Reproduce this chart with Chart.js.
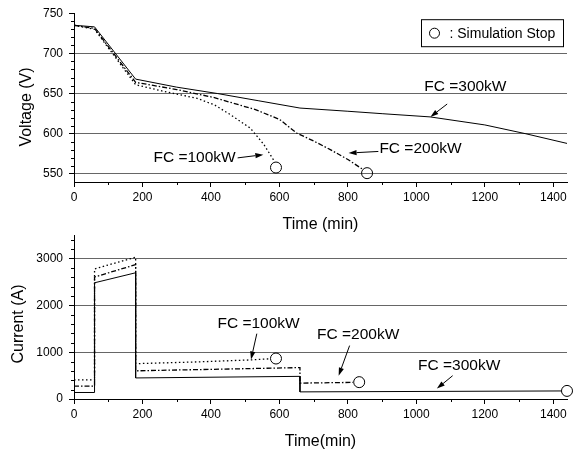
<!DOCTYPE html>
<html>
<head>
<meta charset="utf-8">
<script src="https://cdn.jsdelivr.net/npm/chart.js@4.4.0/dist/chart.umd.min.js"></script>
<style>
    body { margin: 0; background: #fff; }
    .panel { position: absolute; left: 0; }
    #voltagePanel { top: 0; }
    #currentPanel { top: 222px; }
</style>
</head>
<body>
<div class="panel" id="voltagePanel"><canvas id="voltageChart" width="582" height="234"></canvas></div>
<div class="panel" id="currentPanel"><canvas id="currentChart" width="582" height="230"></canvas></div>
<script>
const FONT = 'Arial, "Liberation Sans", sans-serif';

// axis ticks
const timeTicks = [0, 200, 400, 600, 800, 1000, 1200, 1400];
const voltageTicks = [550, 600, 650, 700, 750];
const currentTicks = [0, 1000, 2000, 3000];

// battery voltage (V) vs time (min)
const timeV100 = [0, 60, 180, 260, 360, 410, 456, 515, 554, 585];
const volt100 = [735, 730, 661, 653, 644, 636, 624, 607, 587, 566];
const timeV200 = [0, 60, 180, 300, 410, 530, 600, 650, 700, 750, 800, 846];
const volt200 = [735, 731, 664, 655, 645, 630, 618, 601, 591, 580, 568, 555];
const timeV300 = [0, 60, 180, 300, 420, 540, 660, 800, 900, 1040, 1200, 1320, 1440];
const volt300 = [735, 733, 668, 658, 650, 641, 632, 628, 625, 621, 611, 600, 588];
const stopTimeV = [590, 856];
const stopVolt = [558, 551];

// battery current (A) vs time (min)
const timeI100 = [0, 60, 60, 180, 180, 350, 515, 575];
const curr100 = [408, 408, 2780, 3030, 755, 790, 835, 860];
const timeI200 = [0, 60, 60, 180, 180, 660, 660, 815];
const curr200 = [277, 277, 2607, 2870, 602, 671, 339, 355];
const timeI300 = [0, 60, 60, 180, 180, 660, 660, 1425];
const curr300 = [139, 139, 2483, 2697, 450, 484, 152, 172];
const stopTimeI = [590, 833, 1440];
const stopCurr = [865, 360, 173];

const seriesNames = ['FC =100kW', 'FC =200kW', 'FC =300kW'];

function toPoints(xs, ys) {
    return xs.map((x, i) => ({ x: x, y: ys[i] }));
}

function fixedTicks(values) {
    return scale => { scale.ticks = values.map(v => ({ value: v })); };
}

function lineSet(label, xs, ys, dash) {
    return {
        label: label,
        data: toPoints(xs, ys),
        borderColor: '#000',
        borderWidth: dash.length ? 1.3 : 1,
        borderDash: dash,
        pointRadius: 0,
        tension: 0,
        fill: false
    };
}

function stopSet(xs, ys) {
    return {
        label: 'Simulation Stop',
        data: toPoints(xs, ys),
        showLine: false,
        pointRadius: 5.5,
        pointBorderWidth: 1,
        pointBorderColor: '#000',
        pointBackgroundColor: 'rgba(0,0,0,0)',
        clip: false
    };
}

function drawArrow(ctx, x1, y1, x2, y2) {
    const a = Math.atan2(y2 - y1, x2 - x1);
    const len = 8, half = 2.6;
    const bx = x2 - Math.cos(a) * len, by = y2 - Math.sin(a) * len;
    ctx.beginPath();
    ctx.moveTo(x1, y1);
    ctx.lineTo(bx, by);
    ctx.stroke();
    ctx.beginPath();
    ctx.moveTo(x2, y2);
    ctx.lineTo(bx + half * Math.sin(a), by - half * Math.cos(a));
    ctx.lineTo(bx - half * Math.sin(a), by + half * Math.cos(a));
    ctx.closePath();
    ctx.fill();
}

// minor ticks, rotated y title, "FC =..." notes and the stop legend box
const overlayPlugin = {
    id: 'overlay',
    afterDatasetsDraw(chart, args, opts) {
        const ctx = chart.ctx;
        const xs = chart.scales.x;
        const ys = chart.scales.y;
        ctx.save();
        ctx.strokeStyle = '#000';
        ctx.fillStyle = '#000';
        ctx.lineWidth = 1;

        for (let v = xs.min + opts.xMinor; v < xs.max; v += opts.xMinor) {
            if (v % opts.xMajor === 0) continue;
            const px = Math.round(xs.getPixelForValue(v)) + 0.5;
            ctx.beginPath();
            ctx.moveTo(px, ys.bottom);
            ctx.lineTo(px, ys.bottom + 3);
            ctx.stroke();
        }
        for (let v = ys.min + opts.yMinor; v < ys.max; v += opts.yMinor) {
            if (v % opts.yMajor === 0) continue;
            const py = Math.round(ys.getPixelForValue(v)) + 0.5;
            ctx.beginPath();
            ctx.moveTo(xs.left, py);
            ctx.lineTo(xs.left - 3, py);
            ctx.stroke();
        }

        ctx.save();
        ctx.translate(opts.yTitle.x, opts.yTitle.y);
        ctx.rotate(-Math.PI / 2);
        ctx.font = '16px ' + FONT;
        ctx.textAlign = 'center';
        ctx.textBaseline = 'middle';
        ctx.fillText(opts.yTitle.text, 0, 0);
        ctx.restore();

        ctx.font = '15.5px ' + FONT;
        ctx.textAlign = 'left';
        ctx.textBaseline = 'middle';
        opts.notes.forEach(n => {
            ctx.fillText(n.text, xs.getPixelForValue(n.at[0]), ys.getPixelForValue(n.at[1]));
            drawArrow(ctx,
                xs.getPixelForValue(n.from[0]), ys.getPixelForValue(n.from[1]),
                xs.getPixelForValue(n.to[0]), ys.getPixelForValue(n.to[1]));
        });

        if (opts.legendBox) {
            const left = chart.chartArea.right - 145.5;
            const top = chart.chartArea.top + 6.5;
            ctx.strokeRect(left, top, 142, 27);
            ctx.beginPath();
            ctx.arc(left + 13, top + 13.5, 5, 0, Math.PI * 2);
            ctx.stroke();
            ctx.font = '14px ' + FONT;
            ctx.fillText(': Simulation Stop', left + 28, top + 14);
        }
        ctx.restore();
    }
};

function buildOptions(cfg) {
    return {
        responsive: false,
        animation: false,
        devicePixelRatio: 1,
        layout: { padding: { left: 0, right: 15, top: cfg.padTop, bottom: 0 } },
        plugins: {
            legend: { display: false },
            tooltip: { enabled: false },
            overlay: cfg.overlay
        },
        scales: {
            x: {
                type: 'linear',
                min: 0,
                max: 1440,
                afterBuildTicks: fixedTicks(timeTicks),
                afterFit: scale => { scale.height = cfg.xHeight; },
                border: { color: '#000', width: 1 },
                grid: { drawOnChartArea: false, tickLength: 5, tickColor: '#000' },
                ticks: { color: '#000', font: { size: 12 }, padding: 3, maxRotation: 0, callback: v => String(v) },
                title: { display: true, text: cfg.xTitle, color: '#000', font: { size: 16 }, padding: { top: 0, bottom: cfg.xTitlePad } }
            },
            y: {
                type: 'linear',
                min: cfg.yMin,
                max: cfg.yMax,
                afterBuildTicks: fixedTicks(cfg.yTicks),
                afterFit: scale => { scale.width = 74; },
                border: { color: '#000', width: 1 },
                grid: {
                    color: ctx => (ctx.tick && (ctx.tick.value === cfg.yMax || ctx.tick.value === cfg.yMin)) ? 'rgba(0,0,0,0)' : '#666',
                    tickLength: 5,
                    tickColor: '#000'
                },
                ticks: { color: '#000', font: { size: 12 }, padding: 6, callback: v => String(v) }
            }
        }
    };
}

Chart.defaults.font.family = FONT;

new Chart(document.getElementById('voltageChart'), {
    type: 'line',
    data: {
        datasets: [
            lineSet(seriesNames[0], timeV100, volt100, [1.5, 2.5]),
            lineSet(seriesNames[1], timeV200, volt200, [5, 2, 1.5, 2]),
            lineSet(seriesNames[2], timeV300, volt300, []),
            stopSet(stopTimeV, stopVolt)
        ]
    },
    options: buildOptions({
        padTop: 12,
        xHeight: 52,
        xTitle: 'Time (min)',
        xTitlePad: 0,
        yMin: 540,
        yMax: 750,
        yTicks: voltageTicks,
        overlay: {
            xMinor: 100, xMajor: 200, yMinor: 10, yMajor: 50,
            yTitle: { text: 'Voltage (V)', x: 27, y: 107 },
            legendBox: true,
            notes: [
                { text: seriesNames[0], at: [232, 570], from: [478, 570], to: [553, 574] },
                { text: seriesNames[1], at: [892, 581], from: [889, 578], to: [802, 576] },
                { text: seriesNames[2], at: [1023, 658], from: [1090, 637], to: [1041, 621] }
            ]
        }
    }),
    plugins: [overlayPlugin]
});

new Chart(document.getElementById('currentChart'), {
    type: 'line',
    data: {
        datasets: [
            lineSet(seriesNames[0], timeI100, curr100, [1.5, 2.5]),
            lineSet(seriesNames[1], timeI200, curr200, [5, 2, 1.5, 2]),
            lineSet(seriesNames[2], timeI300, curr300, []),
            stopSet(stopTimeI, stopCurr)
        ]
    },
    options: buildOptions({
        padTop: 8,
        xHeight: 53,
        xTitle: 'Time(min)',
        xTitlePad: 1,
        yMin: 0,
        yMax: 3500,
        yTicks: currentTicks,
        overlay: {
            xMinor: 100, xMajor: 200, yMinor: 200, yMajor: 1000,
            yTitle: { text: 'Current (A)', x: 19, y: 102 },
            legendBox: false,
            notes: [
                { text: seriesNames[0], at: [419, 1618], from: [534, 1396], to: [517, 844] },
                { text: seriesNames[1], at: [710, 1363], from: [805, 1141], to: [773, 498] },
                { text: seriesNames[2], at: [1005, 705], from: [1106, 498], to: [1060, 222] }
            ]
        }
    }),
    plugins: [overlayPlugin]
});
</script>
</body>
</html>
